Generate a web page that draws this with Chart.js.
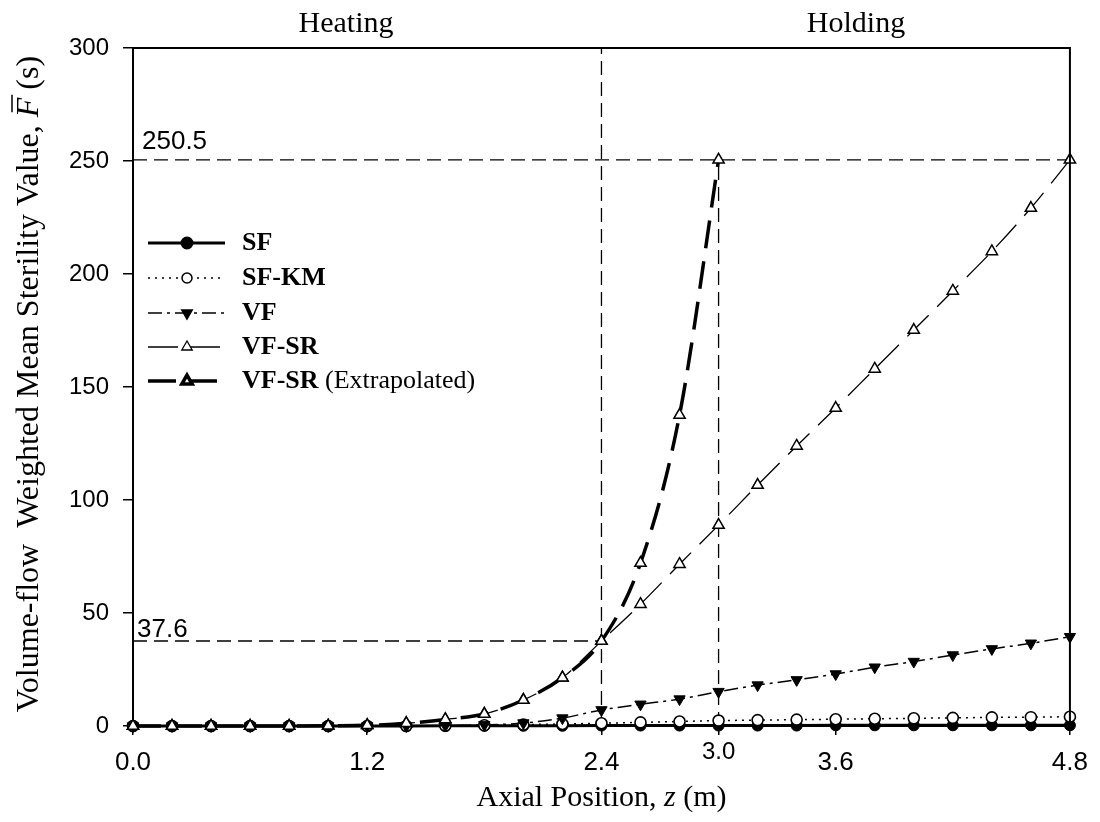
<!DOCTYPE html>
<html>
<head>
<meta charset="utf-8">
<script src="https://cdn.jsdelivr.net/npm/chart.js@4.4.1/dist/chart.umd.min.js"></script>
<style>
  html, body { margin: 0; padding: 0; background: #fff; }
  #wrap { width: 1100px; height: 822px; }
</style>
</head>
<body>
<div id="wrap"><canvas id="chartCanvas" width="1100" height="822"></canvas></div>
<script>
// axial positions (m)
const positions = [0.0, 0.2, 0.4, 0.6, 0.8, 1.0, 1.2, 1.4, 1.6, 1.8, 2.0, 2.2, 2.4,
                   2.6, 2.8, 3.0, 3.2, 3.4, 3.6, 3.8, 4.0, 4.2, 4.4, 4.6, 4.8];
// volume-flow weighted mean sterility values (s)
const sf     = [0, 0, 0, 0, 0, 0, 0, 0, 0.1, 0.1, 0.1, 0.1, 0.2, 0.2, 0.2, 0.2, 0.2, 0.2, 0.3, 0.3, 0.3, 0.3, 0.3, 0.3, 0.3];
const sfKm   = [0, 0, 0, 0, 0, 0, 0, 0, 0.1, 0.3, 0.6, 0.9, 1.2, 1.6, 2.0, 2.4, 2.6, 2.8, 3.0, 3.2, 3.4, 3.6, 3.8, 3.9, 4.1];
const vf     = [0, 0, 0, 0, 0, 0, 0, 0, 0.2, 0.5, 1.3, 3.5, 7.1, 9.6, 11.9, 15.2, 18.1, 20.4, 23.0, 26.0, 28.5, 31.4, 34.1, 36.6, 39.5];
const vfSr   = [0, 0, 0, 0, 0, 0.1, 0.3, 1.2, 2.9, 5.3, 11.5, 21.4, 37.6, 53.9, 71.6, 88.9, 106.6, 123.9, 140.7, 158.0, 175.2, 192.5, 210.0, 229.2, 250.5];
// extrapolated VF-SR, 0 to 3.0 m
const vfSrExt = [0, 0, 0, 0, 0, 0.1, 0.3, 1.2, 2.9, 5.3, 11.5, 21.4, 37.6, 72.1, 137.6, 250.5];

const xTicks = [0.0, 1.2, 2.4, 3.0, 3.6, 4.8];
const yTicks = [0, 50, 100, 150, 200, 250, 300];

// reference marks
const heatEnd = 2.4;      // end of heating section
const extrapEnd = 3.0;    // where extrapolated curve reaches target
const fAtHeatEnd = 37.6;
const fTarget = 250.5;

const SERIF = '"Liberation Serif", "Times New Roman", serif';
const SANS = '"Liberation Sans", Arial, sans-serif';

const pts = (xs, ys) => ys.map((y, i) => ({ x: xs[i], y }));

function refLine(a, b) {
  return {
    label: '', data: [a, b], isRef: true,
    borderColor: '#000', borderWidth: 1.3, borderDash: [14, 7],
    pointRadius: 0, order: 20, clip: false
  };
}

function drawParts(ctx, parts, cx, cy, rot) {
  ctx.save();
  ctx.translate(cx, cy);
  if (rot) ctx.rotate(rot);
  ctx.textBaseline = 'middle';
  ctx.textAlign = 'left';
  ctx.fillStyle = '#000';
  ctx.strokeStyle = '#000';
  let total = 0;
  parts.forEach(p => { ctx.font = p.font; p.w = ctx.measureText(p.text).width; total += p.w; });
  let x = -total / 2;
  parts.forEach(p => {
    ctx.font = p.font;
    ctx.fillText(p.text, x, 0);
    if (p.bar) {
      // overbar (mean value)
      ctx.lineWidth = 1.5;
      ctx.beginPath();
      ctx.moveTo(x + 5, -p.bar);
      ctx.lineTo(x + p.w + 3, -p.bar);
      ctx.stroke();
    }
    x += p.w;
  });
  ctx.restore();
}

const decorations = {
  id: 'decorations',
  beforeDraw(chart) {
    const ctx = chart.ctx;
    ctx.save();
    ctx.fillStyle = '#fff';
    ctx.fillRect(0, 0, chart.width, chart.height);
    ctx.restore();
  },
  afterDraw(chart) {
    const ctx = chart.ctx;
    const { left, right, top, bottom } = chart.chartArea;
    const xs = chart.scales.x, ys = chart.scales.y;

    // top and right frame
    ctx.save();
    ctx.strokeStyle = '#000';
    ctx.lineWidth = 2;
    ctx.beginPath();
    ctx.moveTo(left, top);
    ctx.lineTo(right, top);
    ctx.lineTo(right, bottom);
    ctx.stroke();
    ctx.restore();

    // value labels on the dashed lines
    ctx.save();
    ctx.fillStyle = '#000';
    ctx.font = '26px ' + SANS;
    ctx.textAlign = 'left';
    ctx.textBaseline = 'alphabetic';
    ctx.fillText(String(fTarget), left + 9, ys.getPixelForValue(fTarget) - 11);
    ctx.fillText(String(fAtHeatEnd), left + 4, ys.getPixelForValue(fAtHeatEnd) - 4);
    // raised 3.0 tick label
    ctx.font = '24px ' + SANS;
    ctx.textAlign = 'center';
    ctx.textBaseline = 'middle';
    ctx.fillText(extrapEnd.toFixed(1), xs.getPixelForValue(extrapEnd), bottom + 26);
    ctx.restore();

    // section headings
    drawParts(ctx, [{ text: 'Heating', font: '30px ' + SERIF }], 346, 24);
    drawParts(ctx, [{ text: 'Holding', font: '30px ' + SERIF }], 856, 24);

    // axis titles
    drawParts(ctx, [
      { text: 'Axial Position, ', font: '30px ' + SERIF },
      { text: 'z', font: 'italic 30px ' + SERIF },
      { text: ' (m)', font: '30px ' + SERIF }
    ], (left + right) / 2, 798);
    drawParts(ctx, [
      { text: 'Volume-flow  Weighted Mean Sterility Value, ', font: '32px ' + SERIF },
      { text: 'F', font: 'italic 32px ' + SERIF, bar: 18 },
      { text: ' (s)', font: '32px ' + SERIF }
    ], 30, (top + bottom) / 2 - 3, -Math.PI / 2);

    // legend
    const rowY = [243, 278, 313, 347, 381];
    let row = 0;
    chart.data.datasets.forEach(ds => {
      if (ds.isRef) return;
      const y = rowY[row++];
      ctx.save();
      ctx.strokeStyle = '#000';
      ctx.lineWidth = ds.borderWidth;
      ctx.setLineDash(ds.borderDash || []);
      ctx.beginPath();
      ctx.moveTo(148, y);
      ctx.lineTo(225, y);
      ctx.stroke();
      ctx.setLineDash([]);
      ctx.fillStyle = ds.pointBackgroundColor;
      ctx.strokeStyle = '#000';
      Chart.helpers.drawPoint(ctx, {
        pointStyle: ds.pointStyle, rotation: ds.pointRotation || 0,
        radius: ds.pointRadius - 0.5, borderWidth: ds.pointBorderWidth
      }, 187, y);
      ctx.restore();
      const i = ds.label.indexOf(' (');
      const parts = i < 0 ? [{ text: ds.label, font: 'bold 26px ' + SERIF }]
        : [{ text: ds.label.slice(0, i), font: 'bold 26px ' + SERIF },
           { text: ds.label.slice(i), font: '26px ' + SERIF }];
      ctx.save();
      ctx.fillStyle = '#000';
      ctx.textBaseline = 'middle';
      let x = 242;
      parts.forEach(p => { ctx.font = p.font; ctx.fillText(p.text, x, y); x += ctx.measureText(p.text).width; });
      ctx.restore();
    });
  }
};

const ctx = document.getElementById('chartCanvas').getContext('2d');
new Chart(ctx, {
  type: 'line',
  data: {
    datasets: [
      {
        label: 'SF', data: pts(positions, sf),
        borderColor: '#000', borderWidth: 3, borderDash: [],
        pointStyle: 'circle', pointRadius: 5.5, pointBackgroundColor: '#000',
        pointBorderColor: '#000', pointBorderWidth: 1, order: 5, clip: false
      },
      {
        label: 'SF-KM', data: pts(positions, sfKm),
        borderColor: '#000', borderWidth: 1.5, borderDash: [2, 5],
        pointStyle: 'circle', pointRadius: 5.5, pointBackgroundColor: '#fff',
        pointBorderColor: '#000', pointBorderWidth: 1.6, order: 4, clip: false
      },
      {
        label: 'VF', data: pts(positions, vf),
        borderColor: '#000', borderWidth: 1.5, borderDash: [14, 5, 3, 5],
        pointStyle: 'triangle', pointRotation: 180, pointRadius: 6.5, pointBackgroundColor: '#000',
        pointBorderColor: '#000', pointBorderWidth: 1, order: 3, clip: false,
        cubicInterpolationMode: 'monotone'
      },
      {
        label: 'VF-SR', data: pts(positions, vfSr),
        borderColor: '#000', borderWidth: 1.3, borderDash: [30, 12],
        pointStyle: 'triangle', pointRadius: 6.5, pointBackgroundColor: '#fff',
        pointBorderColor: '#000', pointBorderWidth: 1.5, order: 2, clip: false,
        cubicInterpolationMode: 'monotone'
      },
      {
        label: 'VF-SR (Extrapolated)', data: pts(positions, vfSrExt),
        borderColor: '#000', borderWidth: 3.5, borderDash: [28, 13],
        pointStyle: 'triangle', pointRadius: 6.5, pointBackgroundColor: '#fff',
        pointBorderColor: '#000', pointBorderWidth: 1.5, order: 1, clip: false,
        cubicInterpolationMode: 'monotone'
      },
      refLine({ x: 0, y: fAtHeatEnd }, { x: heatEnd, y: fAtHeatEnd }),
      refLine({ x: heatEnd, y: 0 }, { x: heatEnd, y: 300 }),
      refLine({ x: 0, y: fTarget }, { x: 4.8, y: fTarget }),
      refLine({ x: extrapEnd, y: 0 }, { x: extrapEnd, y: fTarget })
    ]
  },
  options: {
    responsive: false,
    animation: false,
    devicePixelRatio: 1,
    layout: { padding: { top: 48, right: 26, left: 0, bottom: 0 } },
    plugins: { legend: { display: false }, tooltip: { enabled: false } },
    scales: {
      x: {
        type: 'linear', min: 0, max: 4.8,
        afterBuildTicks: s => { s.ticks = xTicks.map(v => ({ value: v })); },
        afterFit: s => { s.height = 96; },
        border: { display: true, color: '#000', width: 2 },
        grid: { drawOnChartArea: false, color: '#000', lineWidth: 1.5, tickLength: 9 },
        ticks: {
          color: '#000', font: { family: SANS, size: 26 }, padding: 12, maxRotation: 0,
          callback: v => (v === extrapEnd ? '' : v.toFixed(1))
        }
      },
      y: {
        type: 'linear', min: 0, max: 300,
        afterBuildTicks: s => { s.ticks = yTicks.map(v => ({ value: v })); },
        afterFit: s => { s.width = 133; },
        border: { display: true, color: '#000', width: 2 },
        grid: { drawOnChartArea: false, color: '#000', lineWidth: 1.5, tickLength: 10 },
        ticks: { color: '#000', font: { family: SANS, size: 24 }, padding: 14 }
      }
    }
  },
  plugins: [decorations]
});
</script>
</body>
</html>
